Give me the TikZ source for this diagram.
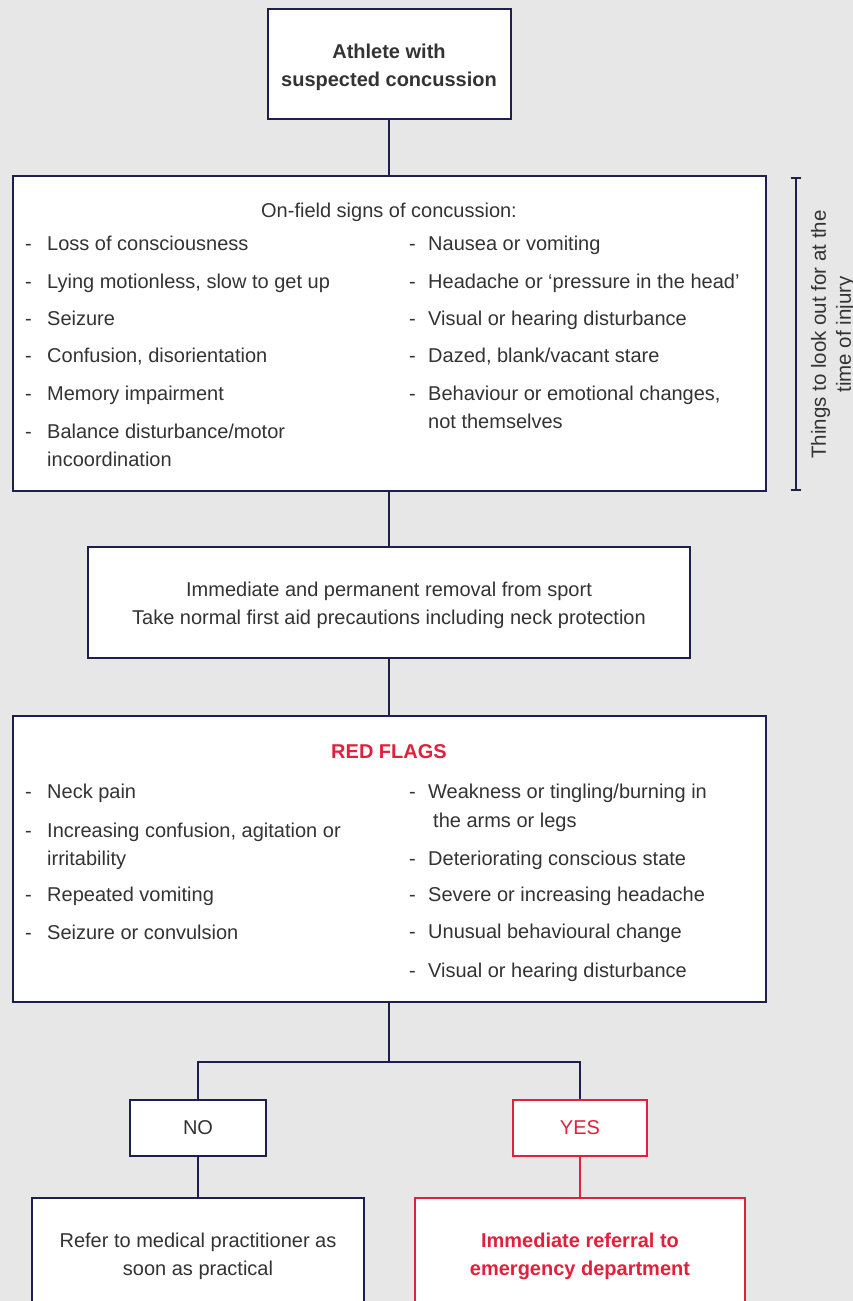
\documentclass[tikz,border=0pt]{standalone}
\usepackage{fontspec}
\setmainfont{Liberation Sans}
\definecolor{navy}{HTML}{1F1F4D}
\definecolor{flagred}{HTML}{E0203C}
\definecolor{bggrey}{HTML}{E6E7E6}
\definecolor{txt}{HTML}{333333}
\begin{document}
\begin{tikzpicture}[x=1pt,y=-1pt,
        font=\fontsize{20}{28}\selectfont, text=txt,
        box/.style={draw=navy,line width=2pt,fill=white,inner sep=0pt,align=center},
        heavy/.style={font=\fontsize{20}{28}\selectfont\bfseries},
        link/.style={draw=navy,line width=2pt},
        dashmark/.style={anchor=base west,inner sep=0pt},
        item/.style={anchor=base west,inner sep=0pt}]
            \fill[bggrey] (0,0) rectangle (853,1301);
            \useasboundingbox (0,0) rectangle (853,1301);
            \clip (0,0) rectangle (853,1301);

            % boxes of the main column
            \node[box,heavy,minimum width=243pt,minimum height=110pt] (athlete) at (389,64) {\rule{0pt}{22pt}Athlete with\\suspected concussion};
            \node[box,minimum width=753pt,minimum height=315pt] (signs) at (389,333.5) {};
            \node[box,minimum width=602pt,minimum height=111pt] (removal) at (389,602.5) {\rule{0pt}{20pt}Immediate and permanent removal from sport\\Take normal first aid precautions including neck protection};
            \node[box,minimum width=753pt,minimum height=286pt] (flags) at (389,859) {};
            \coordinate (split) at (389,1062);

            % on-field signs
            \node[item,anchor=base] (signstitle) at (389,217) {On-field signs of concussion:};
            \foreach \y/\t [count=\i] in {250/Loss of consciousness,288/{Lying motionless, slow to get up},325/Seizure,
                    362/{Confusion, disorientation},400/Memory impairment,438/{Balance disturbance/motor}}
                {\node[dashmark] (sdl\i) at (25,\y) {-};
                    \node[item] (sl\i) at (47,\y) {\t};
                }
            \node[item] (sl7) at (47,466) {incoordination};
            \foreach \y/\t [count=\i] in {250/Nausea or vomiting,288/Headache or `pressure in the head',325/Visual or hearing disturbance,
                    362/{Dazed, blank/vacant stare},400/{Behaviour or emotional changes,}}
                {\node[dashmark] (sdr\i) at (409,\y) {-};
                    \node[item] (sr\i) at (428,\y) {\t};
                }
            \node[item] (sr6) at (428,428) {not themselves};

            % bracket at the side
            \draw[link] (791,178) -- (801,178) (796,178) -- (796,490) (791,490) -- (801,490);
            \node[rotate=90,align=center,inner sep=0pt,font=\fontsize{20.5}{25}\selectfont] (lookout) at (833,334.5) {Things to look out for at the\\time of injury};

            % red flags
            \node[item,heavy,anchor=base,text=flagred] (flagstitle) at (389,758) {RED FLAGS};
            \foreach \y/\t [count=\i] in {798/Neck pain,837/{Increasing confusion, agitation or},901/Repeated vomiting,939/Seizure or convulsion}
                {\node[dashmark] (fdl\i) at (25,\y) {-};
                    \node[item] (fl\i) at (47,\y) {\t};
                }
            \node[item] (fl5) at (47,865) {irritability};
            \foreach \y/\t [count=\i] in {798/{Weakness or tingling/burning in},865/Deteriorating conscious state,901/Severe or increasing headache,
                    938/Unusual behavioural change,977/Visual or hearing disturbance}
                {\node[dashmark] (fdr\i) at (409,\y) {-};
                    \node[item] (fr\i) at (428,\y) {\t};
                }
            \node[item] (fr6) at (433,827) {the arms or legs};

            % answers
            \node[box,minimum width=136pt,minimum height=56pt] (no) at (198,1128) {NO};
            \node[box,draw=flagred,text=flagred,minimum width=134pt,minimum height=56pt] (yes) at (580,1128) {YES};
            \node[box,minimum width=332pt,minimum height=116pt] (gp) at (198,1256) {Refer to medical practitioner as\\soon as practical};
            \node[box,heavy,draw=flagred,text=flagred,minimum width=330pt,minimum height=116pt] (ed) at (580,1256) {Immediate referral to\\emergency department};

            \draw[link] (athlete) -- (signs);
            \draw[link] (signs) -- (removal);
            \draw[link] (removal) -- (flags);
            \draw[link] (flags) -- (split);
            \draw[link] (no) |- (split) -| (yes);
            \draw[link] (no) -- (gp);
            \draw[link,draw=flagred] (yes) -- (ed);
        \end{tikzpicture}
\end{document}
